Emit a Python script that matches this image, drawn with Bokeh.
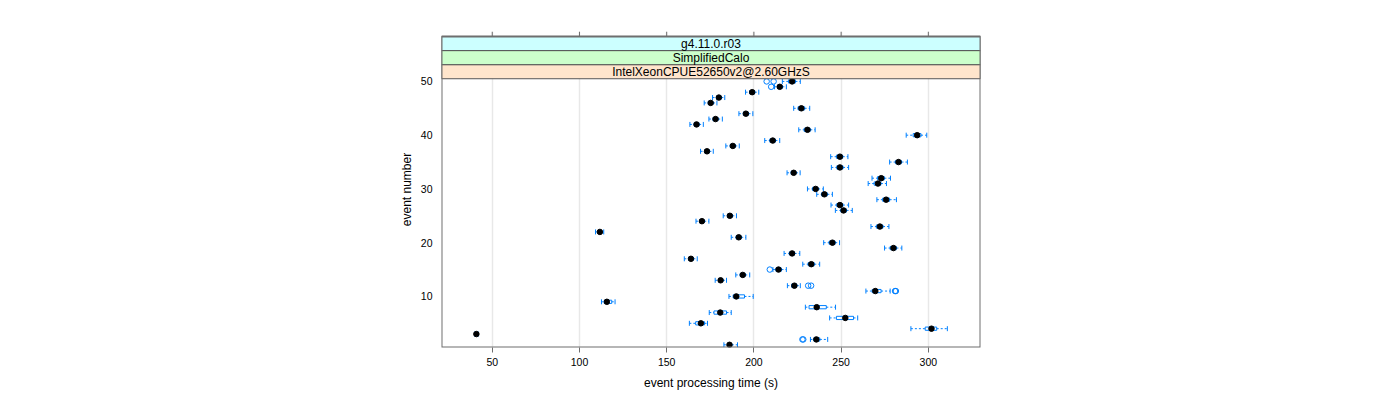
from math import pi
from bokeh.plotting import figure
from bokeh.models import ColumnDataSource, FixedTicker, Range1d, Label
from bokeh.embed import file_html
from bokeh.resources import INLINE

# ---------------- data ----------------
events = list(range(1, 51))

lower = [182.8, 232.4, 39.9, 290.0, 163.0, 243.4, 174.4, 229.5, 112.6, 185.7,
         264.2, 219.2, 177.8, 189.6, 210.9, 228.0, 160.1, 217.3, 274.9, 240.0,
         187.0, 109.2, 267.1, 166.8, 182.4, 246.7, 244.2, 270.5, 236.0, 230.7,
         265.5, 267.7, 219.0, 244.4, 277.8, 244.0, 169.4, 183.9, 206.2, 287.3,
         225.7, 163.3, 174.2, 191.4, 222.8, 171.5, 176.3, 195.2, 211.8, 216.3]

q1 = [184.8, 234.3, 40.4, 298.2, 166.6, 247.3, 177.1, 231.6, 114.2, 188.1,
      267.8, 221.6, 179.7, 192.1, 212.6, 231.1, 162.5, 220.3, 278.1, 243.1,
      189.8, 110.8, 270.2, 168.9, 184.8, 249.8, 247.5, 273.8, 238.8, 233.6,
      268.9, 270.9, 221.3, 247.5, 281.1, 247.3, 171.7, 186.4, 209.1, 291.3,
      228.8, 165.7, 176.5, 193.9, 225.3, 173.8, 178.5, 197.5, 213.5, 219.8]

median = [186.0, 235.8, 40.9, 301.8, 169.6, 252.4, 180.7, 236.0, 115.7, 189.9,
          269.6, 223.2, 180.9, 193.6, 214.1, 232.9, 163.9, 221.9, 280.0, 245.0,
          191.3, 111.7, 272.2, 170.2, 186.2, 251.4, 249.3, 275.8, 240.4, 235.4,
          271.1, 273.0, 222.8, 249.3, 282.9, 249.3, 173.1, 187.9, 210.8, 293.6,
          230.7, 167.1, 178.0, 195.4, 227.2, 175.2, 179.9, 199.0, 214.8, 221.9]

q3 = [187.3, 237.8, 41.4, 304.8, 171.7, 257.1, 184.3, 241.5, 118.5, 194.6,
      272.9, 224.6, 182.2, 195.0, 215.8, 234.6, 165.3, 223.3, 281.7, 246.6,
      192.7, 112.5, 274.0, 171.5, 187.6, 253.1, 251.0, 277.8, 242.1, 236.8,
      272.8, 274.8, 224.1, 251.1, 284.6, 250.9, 174.5, 189.3, 212.3, 295.8,
      232.3, 168.6, 179.5, 196.9, 229.1, 176.6, 181.3, 200.5, 216.3, 223.8]

upper = [190.6, 242.3, 42.0, 310.9, 173.4, 259.5, 187.0, 246.8, 120.4, 199.6,
         278.1, 226.6, 184.3, 197.6, 218.6, 237.7, 167.5, 226.3, 284.8, 249.1,
         195.4, 113.9, 277.4, 174.2, 190.0, 256.4, 254.3, 281.7, 245.0, 239.8,
         276.0, 278.3, 226.5, 254.3, 288.0, 253.9, 176.7, 191.6, 214.8, 299.1,
         235.1, 171.0, 181.9, 199.4, 232.0, 178.8, 183.3, 202.8, 218.6, 226.6]

outlier_event = [2, 2, 11, 11, 12, 12, 15, 49, 50, 50]
outlier_value = [227.8, 228.3, 280.9, 281.4, 231.1, 232.8, 209.1, 209.9, 207.3, 211.3]

x_ticks = [50, 100, 150, 200, 250, 300]
y_ticks = [10, 20, 30, 40, 50]

strip_labels = ["IntelXeonCPUE52650v2@2.60GHzS", "SimplifiedCalo", "g4.11.0.r03"]
strip_colors = ["#ffe5cc", "#ccffcc", "#ccffff"]

# ---------------- figure ----------------
FONT = "Liberation Sans"
BLUE = "#0080ff"
FRAME = "#6e6e6e"
X0, X1 = 20.9, 329.9
Y0 = 0.5
PANEL_TOP = 50.5
STRIP_H = 2.62          # one strip is about 14 px high
TICK_H = 0.93           # top tick length, about 5 px
STRIP_TOP = PANEL_TOP + 3 * STRIP_H
Y1 = STRIP_TOP + TICK_H

p = figure(width=1392, height=392, output_backend="svg", toolbar_location=None,
           x_range=Range1d(X0, X1), y_range=Range1d(Y0, Y1),
           min_border_left=441, min_border_right=412,
           min_border_top=31, min_border_bottom=44)
p.background_fill_color = "white"
p.border_fill_color = "white"
p.outline_line_color = None

src = ColumnDataSource(dict(ev=events, lo=lower, q1=q1, med=median, q3=q3, up=upper))
osrc = ColumnDataSource(dict(ev=outlier_event, val=outlier_value))

# whiskers (dashed)
p.segment(x0="lo", y0="ev", x1="q1", y1="ev", source=src,
          line_color=BLUE, line_width=1, line_dash="2 2")
p.segment(x0="q3", y0="ev", x1="up", y1="ev", source=src,
          line_color=BLUE, line_width=1, line_dash="2 2")
# whisker caps
p.scatter(x="lo", y="ev", source=src, marker="dash", angle=pi / 2, size=5,
          line_color=BLUE, line_width=1)
p.scatter(x="up", y="ev", source=src, marker="dash", angle=pi / 2, size=5,
          line_color=BLUE, line_width=1)
# boxes
p.hbar(y="ev", left="q1", right="q3", height=0.6, source=src,
       fill_color=None, line_color=BLUE, line_width=1)
# outliers
p.scatter(x="val", y="ev", source=osrc, marker="circle", size=5.5,
          fill_color=None, line_color=BLUE, line_width=1)
# medians
p.scatter(x="med", y="ev", source=src, marker="circle", size=5.5,
          fill_color="black", line_color="black")

# ---------------- strips ----------------
for i, (lab, col) in enumerate(zip(strip_labels, strip_colors)):
    b = PANEL_TOP + i * STRIP_H
    t = b + STRIP_H
    p.quad(left=X0, right=X1, bottom=b, top=t, fill_color=col,
           line_color="#555555", line_width=1)
    p.add_layout(Label(x=(X0 + X1) / 2, y=(b + t) / 2, text=lab,
                       text_font=FONT, text_font_size="12px",
                       text_align="center", text_baseline="middle",
                       text_color="black"))

# panel + strip border
p.quad(left=X0, right=X1, bottom=Y0, top=STRIP_TOP, fill_color=None,
       line_color=FRAME, line_width=2)

# top ticks above the strips
p.segment(x0=x_ticks, y0=[STRIP_TOP] * len(x_ticks), x1=x_ticks,
          y1=[Y1] * len(x_ticks), line_color=FRAME, line_width=1)

# ---------------- axes ----------------
xt = FixedTicker(ticks=x_ticks)
yt = FixedTicker(ticks=y_ticks)

p.xaxis.ticker = xt
p.xaxis.axis_label = "event processing time (s)"
p.yaxis.ticker = yt
p.yaxis.axis_label = "event number"

for ax in (p.xaxis[0], p.yaxis[0]):
    ax.axis_line_color = None
    ax.minor_tick_line_color = None
    ax.major_tick_in = 0
    ax.major_tick_line_color = FRAME
    ax.major_label_text_font = FONT
    ax.major_label_text_font_size = "10.5px"
    ax.major_label_text_color = "black"
    ax.axis_label_text_font = FONT
    ax.axis_label_text_font_size = "12px"
    ax.axis_label_text_font_style = "normal"
    ax.axis_label_text_color = "black"

p.xaxis.major_tick_out = 5
p.xaxis.major_label_standoff = 5
p.xaxis.axis_label_standoff = 7
p.yaxis.major_tick_out = 0
p.yaxis.major_tick_line_color = None
p.yaxis.major_label_standoff = 9
p.yaxis.axis_label_standoff = 4

p.xgrid.ticker = xt
p.xgrid.grid_line_color = "#e8e8e8"
p.xgrid.grid_line_width = 1.5
p.ygrid.grid_line_color = None

open("out.html", "w").write(file_html(p, INLINE))
